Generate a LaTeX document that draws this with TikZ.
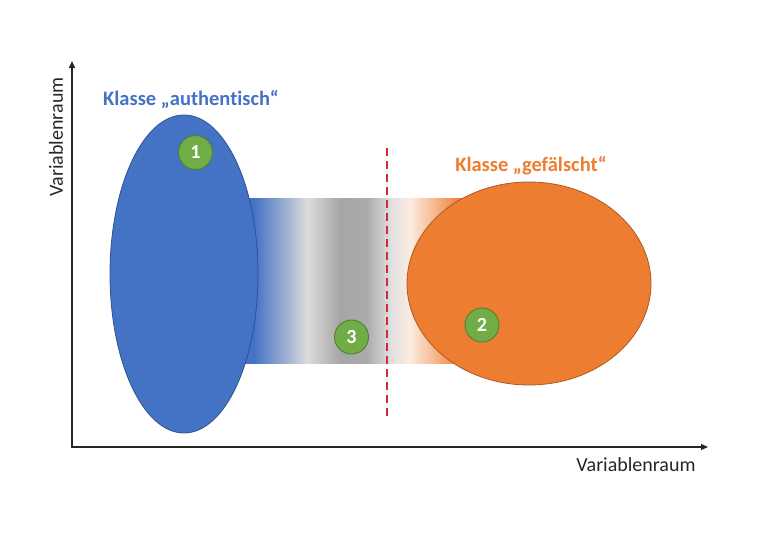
\documentclass[tikz,border=0pt]{standalone}
\usepackage{fontspec}
\setmainfont{Carlito}[Ligatures=NoCommon]
\usetikzlibrary{shapes.geometric,arrows.meta}
\definecolor{oblue}{HTML}{4472C4}
\definecolor{oblueline}{HTML}{2F528F}
\definecolor{oorange}{HTML}{ED7D31}
\definecolor{oorangeline}{HTML}{AE5A21}
\definecolor{ogreen}{HTML}{70AD47}
\definecolor{ogreenline}{HTML}{507E32}
\definecolor{dred}{HTML}{D42A35}
\definecolor{axisgray}{HTML}{262626}
\pgfdeclarehorizontalshading{bandshade}{100bp}{%
  color(0bp)=(oblue); color(25bp)=(oblue); color(27bp)=(oblue);
  color(39.4bp)=(black!14); color(47bp)=(black!35); color(53bp)=(black!33);
  color(58.7bp)=(black!12); color(63bp)=(oorange!15); color(75bp)=(oorange); color(100bp)=(oorange)}
\tikzset{
  classblob/.style={ellipse, inner sep=0pt, line width=0.8pt},
  numdot/.style={circle, fill=ogreen, draw=ogreenline, line width=0.9pt, minimum size=34pt, inner sep=0pt,
    text=white, font=\fontsize{20}{20}\selectfont\bfseries},
  axisline/.style={draw=axisgray, line width=1.3pt, -{Triangle[length=7pt,width=6pt]}},
  axislabel/.style={font=\fontsize{20}{20}\selectfont, text=black!85, inner sep=0pt},
  classlabel/.style={font=\fontsize{20.5}{20.5}\selectfont\bfseries, inner sep=0pt}
}
\begin{document}
\begin{tikzpicture}[x=1pt,y=-1pt]
\useasboundingbox (0,0) rectangle (760,541);
% gradient band
\shade[shading=bandshade] (245,198) rectangle (462,363);
% ellipses
\node[classblob, fill=oblue, draw=oblueline, minimum width=148pt, minimum height=318pt] (auth) at (184,274) {};
\node[classblob, fill=oorange, draw=oorangeline, minimum width=244pt, minimum height=203pt] (fake) at (529,283.5) {};
% dashed separator
\coordinate (sepTop) at (387,148);
\coordinate (sepBot) at (387,416);
\draw[dred, line width=1.8pt, dash pattern=on 8pt off 5pt] (sepTop) -- (sepBot);
% axes
\coordinate (origin) at (72,447);
\coordinate (ytip) at (72,61);
\coordinate (xtip) at (708,447);
\draw[axisline] (72,447.65) -- (ytip);
\draw[axisline] (71.35,447) -- (xtip);
% labels
\node[axislabel, rotate=90] (ylab) at (56,137) {Variablenraum};
\node[axislabel] (xlab) at (636,465) {Variablenraum};
\node[classlabel, text=oblue] (authlab) at (191,100) {Klasse „authentisch“};
\node[classlabel, text=oorange] (fakelab) at (531,166) {Klasse „gefälscht“};
% numbered dots
\node[numdot] (n1) at (195.5,152.5) {1};
\node[numdot] (n2) at (482,325) {2};
\node[numdot] (n3) at (351.5,337) {3};
\end{tikzpicture}
\end{document}
